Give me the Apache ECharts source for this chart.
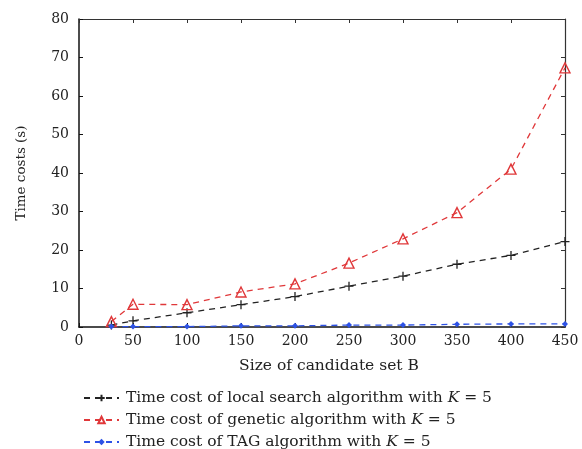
<!DOCTYPE html>
<html><head><meta charset="utf-8">
<script src="https://cdn.jsdelivr.net/npm/echarts@6/dist/echarts.min.js"></script>
<style>html,body{margin:0;padding:0;background:#fff}#c{width:582px;height:449px}</style>
</head><body><div id="c"></div>
<script>
var xValues = [30, 50, 100, 150, 200, 250, 300, 350, 400, 450];
var localSearch = [0.5, 1.6, 3.7, 5.8, 7.9, 10.6, 13.2, 16.3, 18.6, 22.2];
var genetic = [1.4, 5.9, 5.8, 9.1, 11.2, 16.6, 22.9, 29.7, 41.0, 67.3];
var tag = [0.1, 0.1, 0.1, 0.3, 0.3, 0.5, 0.5, 0.7, 0.8, 0.8];
var seriesNames = [
  'Time cost of local search algorithm with K = 5',
  'Time cost of genetic algorithm with K = 5',
  'Time cost of TAG algorithm with K = 5'
];
function pairs(ys){ return xValues.map(function(x,i){return [x, ys[i]];}); }
var font = 'DejaVu Serif';
var legendTops = [385, 407, 429];
function legendFmt(n){ return n.replace('with K = 5', 'with {i|K} = 5'); }
var legends = seriesNames.map(function(n, k){
  return {
    orient:'vertical', left:78, top:legendTops[k], itemWidth:35, itemHeight:8,
    data:[n], formatter:legendFmt,
    textStyle:{fontFamily:font, fontSize:15.5, color:'#222', padding:[0,0,0,2],
      rich:{i:{fontFamily:font, fontStyle:'italic', fontSize:15.5, color:'#222'}}}
  };
});
var chart = echarts.init(document.getElementById('c'));
chart.setOption({
  animation:false,
  textStyle:{fontFamily:font},
  grid:{left:79, top:19, width:486, height:308},
  legend:legends,
  xAxis:[{
    type:'value', min:0, max:450, interval:50,
    name:'Size of candidate set B', nameLocation:'middle', nameGap:31,
    nameTextStyle:{fontFamily:font, fontSize:15.5, color:'#222', padding:[0,0,0,14]},
    axisLine:{onZero:false, lineStyle:{color:'#111', width:1.5}},
    axisTick:{inside:true, length:4, lineStyle:{color:'#111'}},
    axisLabel:{fontFamily:font, fontSize:14, color:'#222', margin:7},
    splitLine:{show:false}
  },{
    type:'value', min:0, max:450, interval:50, position:'top',
    axisLine:{show:true, onZero:false, lineStyle:{color:'#333', width:1.2}},
    axisTick:{inside:true, length:4, lineStyle:{color:'#333'}},
    axisLabel:{show:false}, splitLine:{show:false}
  }],
  yAxis:[{
    type:'value', min:0, max:80, interval:10,
    name:'Time costs (s)', nameLocation:'middle', nameGap:51,
    nameTextStyle:{fontFamily:font, fontSize:13.5, color:'#222'},
    axisLine:{show:true, onZero:false, lineStyle:{color:'#111', width:1.5}},
    axisTick:{show:true, inside:true, length:4, lineStyle:{color:'#111'}},
    axisLabel:{fontFamily:font, fontSize:14, color:'#222', margin:10},
    splitLine:{show:false}
  },{
    type:'value', min:0, max:80, interval:10, position:'right',
    axisLine:{show:true, onZero:false, lineStyle:{color:'#333', width:1.2}},
    axisTick:{show:true, inside:true, length:4, lineStyle:{color:'#333'}},
    axisLabel:{show:false}, splitLine:{show:false}
  }],
  series:[{
    name:seriesNames[0], type:'line', data:pairs(localSearch),
    symbol:'path://M0,5L10,5M5,0L5,10', symbolSize:9,
    itemStyle:{color:'#222', borderColor:'#222', borderWidth:1.3},
    lineStyle:{color:'#222', type:[6,5], width:1.3}
  },{
    name:seriesNames[1], type:'line', data:pairs(genetic),
    symbol:'triangle', symbolSize:10,
    itemStyle:{color:'rgba(255,255,255,0)', borderColor:'#e0383a', borderWidth:1.4},
    lineStyle:{color:'#e0383a', type:[6,5], width:1.3}
  },{
    name:seriesNames[2], type:'line', data:pairs(tag),
    symbol:'diamond', symbolSize:6,
    itemStyle:{color:'#2d52e6'},
    lineStyle:{color:'#2d52e6', type:[6,5], width:1.3}
  }]
});
</script></body></html>
